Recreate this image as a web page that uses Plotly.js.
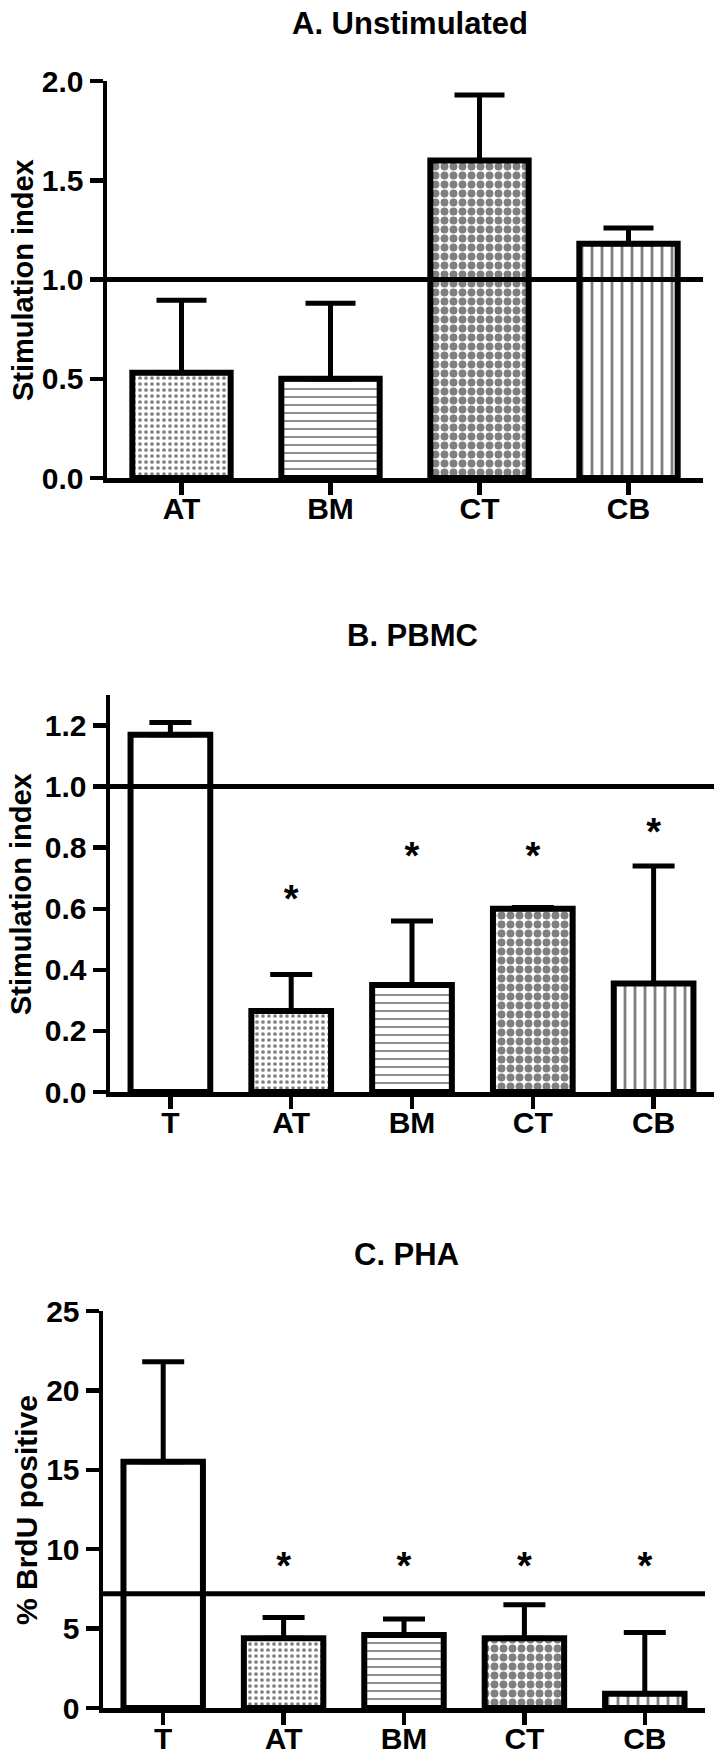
<!DOCTYPE html>
<html>
<head>
<meta charset="utf-8">
<script src="https://cdn.plot.ly/plotly-3.0.1.min.js"></script>
<style>html,body{margin:0;padding:0;background:#fff;}</style>
</head>
<body>
<div id="chart" style="width:720px;height:1763px;"></div>
<script>
// ---------- data ----------
const catsA = ['AT', 'BM', 'CT', 'CB'];
const meanA = [0.53, 0.50, 1.60, 1.18];
const sdA   = [0.365, 0.38, 0.33, 0.08];
const refA  = 1.0;

const catsB = ['T', 'AT', 'BM', 'CT', 'CB'];
const meanB = [1.17, 0.265, 0.35, 0.60, 0.355];
const sdB   = [0.04, 0.12, 0.21, 0.004, 0.385];
const starB = ['', '*', '*', '*', '*'];
const starYB = [null, 0.62, 0.76, 0.76, 0.84];
const refB  = 1.0;

const catsC = ['T', 'AT', 'BM', 'CT', 'CB'];
const meanC = [15.5, 4.4, 4.6, 4.4, 0.9];
const sdC   = [6.3, 1.3, 1.0, 2.1, 3.85];
const starC = ['', '*', '*', '*', '*'];
const starYC = [null, 8.7, 8.7, 8.7, 8.7];
const refC  = 7.2;

const ticksA = [0, 0.5, 1.0, 1.5, 2.0];
const ticksB = [0, 0.2, 0.4, 0.6, 0.8, 1.0, 1.2];
const ticksC = [0, 5, 10, 15, 20, 25];

const titles = ['A. Unstimulated', 'B. PBMC', 'C. PHA'];
const yTitles = ['Stimulation index', 'Stimulation index', '% BrdU positive'];

// ---------- styling helpers ----------
const W = 720, H = 1763;
const px = v => v / W;
const py = v => 1 - v / H;
const FONT = 'Arial, "Liberation Sans", Helvetica, sans-serif';

// pattern per category name
const patShape = {T: '', AT: '.', BM: '-', CT: '.', CB: '|'};
const patSize  = {T: 8, AT: 6, BM: 8, CT: 9, CB: 10};
const patSol   = {T: 0.3, AT: 0.3, BM: 0.22, CT: 0.6, CB: 0.28};

function barTrace(cats, mean, sd, xa, ya, capW) {
  return {
    type: 'bar', x: cats, y: mean, xaxis: xa, yaxis: ya,
    marker: {
      color: 'white',
      line: {color: 'black', width: 6},
      pattern: {
        shape: cats.map(c => patShape[c]),
        size: cats.map(c => patSize[c]),
        solidity: cats.map(c => patSol[c]),
        fgcolor: 'black', bgcolor: 'white', fillmode: 'overlay'
      }
    },
    error_y: {type: 'data', symmetric: false, array: sd, arrayminus: sd.map(() => 0),
              color: 'black', thickness: 5, width: capW},
    hoverinfo: 'skip'
  };
}
function starTrace(cats, ys, txt, xa, ya) {
  return {
    type: 'scatter', mode: 'text', x: cats, y: ys, text: txt, xaxis: xa, yaxis: ya,
    textfont: {family: FONT, size: 38, color: 'black', weight: 'bold'},
    textposition: 'middle center', cliponaxis: false, hoverinfo: 'skip'
  };
}

const data = [
  barTrace(catsA, meanA, sdA, 'x', 'y', 25),
  barTrace(catsB, meanB, sdB, 'x2', 'y2', 21),
  starTrace(catsB, starYB, starB, 'x2', 'y2'),
  barTrace(catsC, meanC, sdC, 'x3', 'y3', 21),
  starTrace(catsC, starYC, starC, 'x3', 'y3')
];

const tickFont = {family: FONT, size: 30, color: 'black', weight: 'bold'};
function xAxis(dom, n, anchor) {
  return {domain: dom, range: [-0.5, n - 0.5], type: 'category', anchor: anchor,
    showline: true, linewidth: 4.5, linecolor: 'black', ticks: 'outside', ticklen: 12,
    tickwidth: 4.5, tickcolor: 'black', showgrid: false, zeroline: false,
    ticklabelstandoff: -12,
    tickfont: tickFont, fixedrange: true};
}
function yAxis(dom, rng, vals, fmt, anchor) {
  return {domain: dom, range: rng, anchor: anchor, tickvals: vals,
    ticktext: vals.map(v => fmt(v)),
    showline: true, linewidth: 4.5, linecolor: 'black', ticks: 'outside', ticklen: 13,
    tickwidth: 4.5, tickcolor: 'black', showgrid: false, zeroline: false,
    tickfont: tickFont, fixedrange: true};
}
const f1 = v => v.toFixed(1);
const f0 = v => String(v);

function refLine(xa, ya, v) {
  return {type: 'line', xref: xa + ' domain', x0: 0, x1: 1, yref: ya, y0: v, y1: v,
          line: {color: 'black', width: 5}, layer: 'above'};
}
function ann(text, x, y, size, angle) {
  return {text: text, xref: 'paper', yref: 'paper', x: x, y: y, xanchor: 'center',
    yanchor: 'middle', showarrow: false, textangle: angle || 0,
    font: {family: FONT, size: size, color: 'black', weight: 'bold'}};
}

const layout = {
  width: W, height: H, margin: {l: 0, r: 0, t: 0, b: 0},
  paper_bgcolor: 'white', plot_bgcolor: 'white', showlegend: false,
  bargap: 0.34,
  font: {family: FONT, color: 'black'},
  xaxis:  xAxis([px(107), px(703)], catsA.length, 'y'),
  yaxis:  yAxis([py(478), py(81)], [0, 2.0], ticksA, f1, 'x'),
  xaxis2: xAxis([px(110), px(714)], catsB.length, 'y2'),
  yaxis2: yAxis([py(1092), py(695)], [0, 1.3], ticksB, f1, 'x2'),
  xaxis3: xAxis([px(103), px(705)], catsC.length, 'y3'),
  yaxis3: yAxis([py(1708), py(1311)], [0, 25], ticksC, f0, 'x3'),
  shapes: [refLine('x', 'y', refA), refLine('x2', 'y2', refB), refLine('x3', 'y3', refC)],
  annotations: [
    ann(titles[0], px(410), py(24), 31),
    ann(titles[1], px(412), py(635), 31),
    ann(titles[2], px(406), py(1254), 31),
    ann(yTitles[0], px(23), py(280), 29, -90),
    ann(yTitles[1], px(21), py(894), 29, -90),
    ann(yTitles[2], px(26), py(1510), 30, -90)
  ]
};

Plotly.newPlot('chart', data, layout, {staticPlot: true, displayModeBar: false});
</script>
</body>
</html>
